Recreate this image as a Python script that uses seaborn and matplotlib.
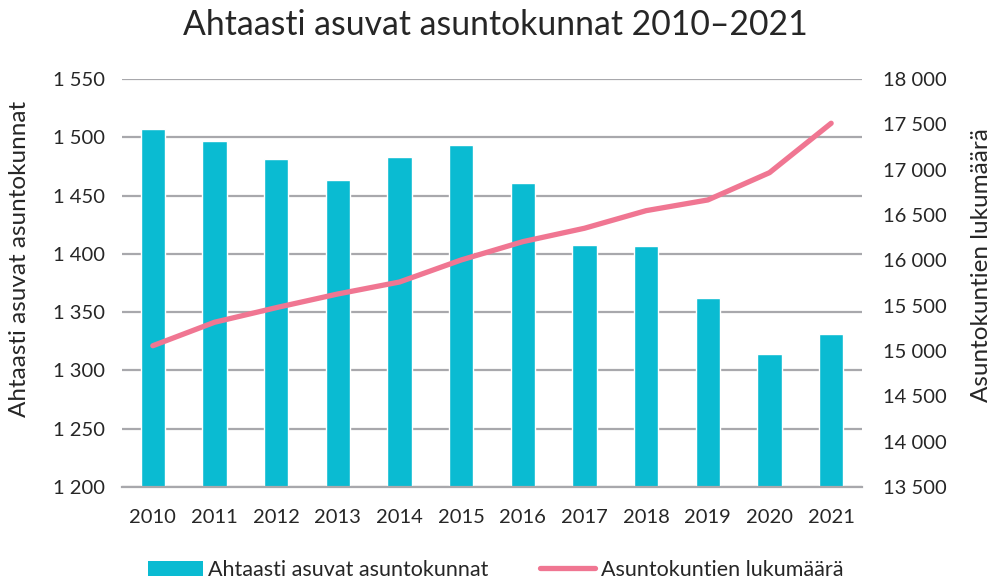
import numpy as np
import pandas as pd
import matplotlib
matplotlib.use("Agg")
import matplotlib.pyplot as plt
from matplotlib.patches import Patch
from matplotlib.lines import Line2D
from matplotlib.ticker import FuncFormatter, MultipleLocator
import seaborn as sns

years = ["2010", "2011", "2012", "2013", "2014", "2015",
         "2016", "2017", "2018", "2019", "2020", "2021"]
crowded = [1507, 1497, 1481, 1463, 1483, 1493, 1461, 1408, 1407, 1362, 1314, 1331]
households = [15058, 15317, 15478, 15629, 15761, 16004, 16206, 16354, 16548, 16666, 16967, 17512]

title = "Ahtaasti asuvat asuntokunnat 2010–2021"
bar_label = "Ahtaasti asuvat asuntokunnat"
line_label = "Asuntokuntien lukumäärä"

bar_color = "#0ABBD2"
line_color = "#F07692"
text_color = "#262626"
grid_color = "#A8A8AC"

sns.set_style("white")
plt.rcParams["font.family"] = ["Lato", "DejaVu Sans"]

df = pd.DataFrame({"year": years, "crowded": crowded, "households": households})

W, H = 991, 582
fig = plt.figure(figsize=(W / 100, H / 100), dpi=100)
ax = fig.add_axes([122 / W, 1 - 487 / H, (862 - 122) / W, (487 - 79) / H])

sns.barplot(data=df, x="year", y="crowded", color=bar_color, width=0.39,
            saturation=1, ax=ax, zorder=2)
ax.set_ylim(1200, 1550)
ax.yaxis.set_major_locator(MultipleLocator(50))
ax.set_xlim(-0.5, 11.5)

fmt = FuncFormatter(lambda v, p: f"{int(round(v)):,}".replace(",", " "))
ax.yaxis.set_major_formatter(fmt)
ax.grid(axis="y", color=grid_color, linewidth=1.6, zorder=0)
ax.set_axisbelow(True)
for s in ["top", "right", "left"]:
    ax.spines[s].set_visible(False)
ax.spines["bottom"].set_color(grid_color)
ax.spines["bottom"].set_linewidth(1.6)
ax.tick_params(axis="both", length=0, labelsize=14.5, colors=text_color)
ax.tick_params(axis="y", pad=12)
ax.tick_params(axis="x", pad=16)
ax.set_xlabel("")
ax.set_ylabel("")

ax2 = ax.twinx()
sns.pointplot(data=df, x="year", y="households", color=line_color, markers="",
              linestyles="-", ax=ax2)
for ln in ax2.lines:
    ln.set_linewidth(3.8)
    ln.set_solid_capstyle("round")
    ln.set_solid_joinstyle("round")
ax2.set_ylim(13500, 18000)
ax2.yaxis.set_major_locator(MultipleLocator(500))
ax2.yaxis.set_major_formatter(fmt)
ax2.set_xlim(-0.5, 11.5)
for s in ["top", "right", "left", "bottom"]:
    ax2.spines[s].set_visible(False)
ax2.tick_params(axis="y", length=0, labelsize=14.5, colors=text_color, pad=15)
ax2.set_ylabel("")
ax2.set_xlabel("")
ax2.grid(False)

fig.text(0.5, 1 - 25 / H, title, ha="center", va="center", fontsize=24.3, color=text_color)
fig.text(20 / W, 1 - 259 / H, bar_label, ha="center", va="center", rotation=90,
         fontsize=17.5, color=text_color)
fig.text(981 / W, 1 - 265 / H, line_label, ha="center", va="center", rotation=90,
         fontsize=17.5, color=text_color)

handles = [Patch(facecolor=bar_color, edgecolor="none", label=bar_label),
           Line2D([0], [0], color=line_color, linewidth=3.8, solid_capstyle="round", label=line_label)]
fig.legend(handles=handles, loc="center", bbox_to_anchor=(0.5, 1 - 570 / H), ncol=2,
           frameon=False, fontsize=15.5, handlelength=2.55, handletextpad=0.25,
           columnspacing=2.4, labelcolor=text_color)

fig.savefig("out.png", dpi=100)
